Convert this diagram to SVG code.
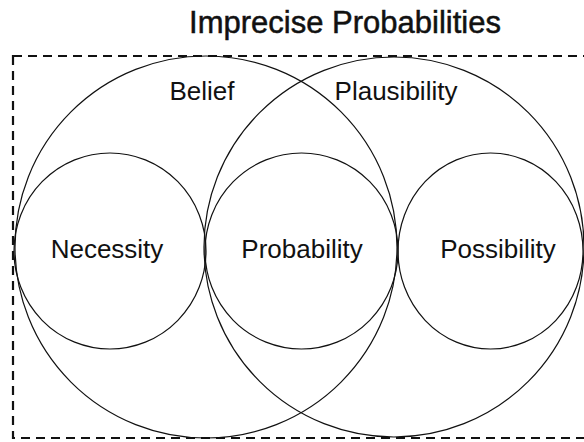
<svg xmlns="http://www.w3.org/2000/svg" width="584" height="442" viewBox="0 0 584 442">
<style>
.c{fill:none;stroke:#111;stroke-width:1.2}
.lbl{font-family:"Liberation Sans",Arial,sans-serif;font-size:26px;fill:#111;text-anchor:middle}
.ttl{font-family:"Liberation Sans",Arial,sans-serif;font-size:31px;fill:#111;stroke:#111;stroke-width:0.5;text-anchor:middle}
.frame{fill:none;stroke:#111;stroke-width:2.2;stroke-dasharray:9 6}
</style>
<rect width="584" height="442" fill="#fff"/>
<text class="ttl" x="345" y="33">Imprecise Probabilities</text>
<rect id="frame" class="frame" x="13" y="56" width="590" height="382"/>
<g id="belief"><circle class="c" cx="206" cy="247" r="191"/><text class="lbl" x="202" y="100">Belief</text></g>
<g id="plausibility"><circle class="c" cx="394" cy="247" r="190"/><text class="lbl" x="396" y="100">Plausibility</text></g>
<g id="necessity"><ellipse class="c" cx="110" cy="251" rx="96" ry="98"/><text class="lbl" x="107" y="258">Necessity</text></g>
<g id="probability"><ellipse class="c" cx="301.5" cy="251" rx="96.5" ry="98"/><text class="lbl" x="302" y="258">Probability</text></g>
<g id="possibility"><ellipse class="c" cx="490.5" cy="251" rx="92.5" ry="98"/><text class="lbl" x="498" y="258">Possibility</text></g>
<g id="connectors"></g>
</svg>
